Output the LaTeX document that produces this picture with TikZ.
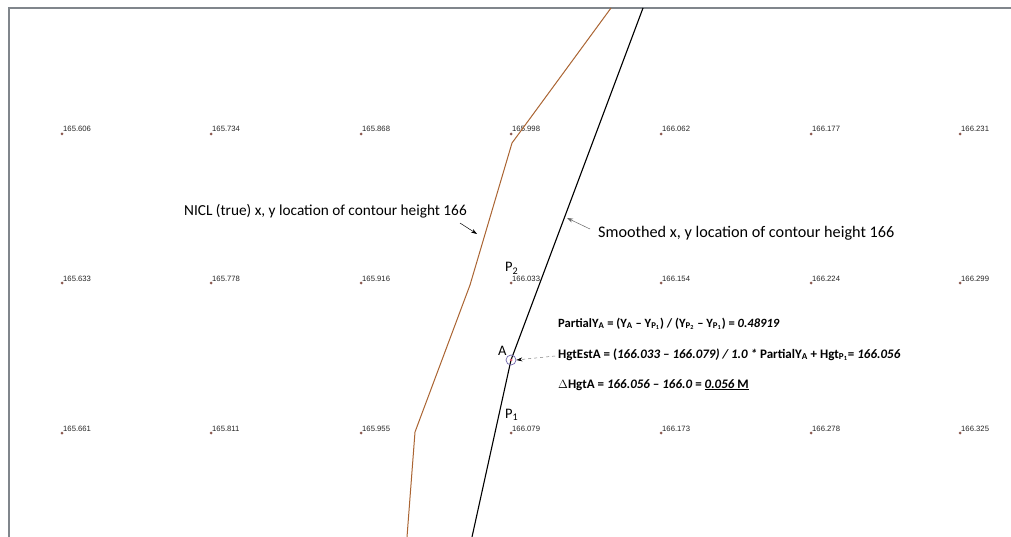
\documentclass[tikz,border=0pt]{standalone}
\usepackage{fontspec}
\setmainfont{Carlito}
\newfontfamily\valfont{Liberation Sans}
\usetikzlibrary{arrows.meta}
\definecolor{framegray}{RGB}{128,134,140}
\definecolor{nicl}{RGB}{170,100,50}
\definecolor{dotc}{RGB}{140,90,80}
\definecolor{circblue}{RGB}{110,100,170}
\definecolor{circred}{RGB}{210,90,110}
\tikzset{
  gdot/.style={circle,fill=dotc,inner sep=0pt,minimum size=3pt},
  gval/.style={anchor=base west,inner sep=0pt,text=black!85,font=\valfont\fontsize{7.7}{9}\selectfont},
  lbl/.style={anchor=base west,inner sep=0pt,font=\fontsize{14}{16}\selectfont},
  eqn/.style={anchor=base west,inner sep=0pt,font=\bfseries\fontsize{13}{15}\selectfont},
  smallarrow/.style={-{Stealth[length=6pt,width=4pt]},line width=0.5pt},
}
\begin{document}
\begin{tikzpicture}[x=1pt,y=-1pt]
\useasboundingbox (0,0) rectangle (1011,537);
\fill[white] (0,0) rectangle (1011,537);
% frame
\draw[framegray,line width=1.8pt] (9,537) -- (9,8) -- (1011,8);
% grid of spot heights
\foreach \r/\y [count=\i] in {1/134,2/283,3/433}{
  \foreach \x [count=\j] in {62,211,361,511,661,811,960}{
    \node[gdot] (d\i\j) at (\x,\y) {};
  }
}
\foreach \v [count=\j] in {165.606,165.734,165.868,165.998,166.062,166.177,166.231}
  \node[gval] (v1\j) at ([xshift=1pt,yshift=2pt]d1\j.center) {\v};
\foreach \v [count=\j] in {165.633,165.778,165.916,166.033,166.154,166.224,166.299}
  \node[gval] (v2\j) at ([xshift=1pt,yshift=2pt]d2\j.center) {\v};
\foreach \v [count=\j] in {165.661,165.811,165.955,166.079,166.173,166.278,166.325}
  \node[gval] (v3\j) at ([xshift=1pt,yshift=2pt]d3\j.center) {\v};
% NICL contour
\coordinate (n1) at (611,8);
\coordinate (n2) at (512,143);
\coordinate (n3) at (470,285);
\coordinate (n4) at (415,432);
\coordinate (n5) at (407,537);
\draw[nicl,line width=1pt] (n1) -- (n2) -- (n3) -- (n4) -- (n5);
% smoothed contour
\coordinate (s1) at (643,8);
\coordinate (sA) at (511,360);
\coordinate (s2) at (472,537);
\draw[black,line width=1.1pt] (s1) -- (sA) -- (s2);
\node[circle,draw=circblue,line width=0.7pt,inner sep=0pt,minimum size=10pt] (A) at (sA) {};
\node[circle,fill=circred,inner sep=0pt,minimum size=3pt] (Adot) at (sA) {};
\node[lbl,font=\fontsize{14.5}{16}\selectfont] (Alab) at (498,355) {A};
\node[lbl,font=\fontsize{14.5}{16}\selectfont] (P2) at (505,272) {P\textsubscript{2}};
\node[lbl,font=\fontsize{14.5}{16}\selectfont] (P1) at (505,418) {P\textsubscript{1}};
% labels
\node[lbl,font=\fontsize{15.3}{17}\selectfont] (nicllab) at (184,216) {NICL (true) x, y location of contour height 166};
\coordinate (na) at (460,223);
\coordinate (nb) at (477,234);
\draw[smallarrow] (na) -- (nb);
\node[lbl,font=\fontsize{16.2}{18}\selectfont] (smlab) at (598,238) {Smoothed x, y location of contour height 166};
\coordinate (sa) at (590,229);
\coordinate (sb) at (567,218);
\draw[smallarrow,draw=gray!80!black] (sa) -- (sb);
% equations
\node[eqn,font=\bfseries\fontsize{12.6}{15}\selectfont] (e1) at (558,327) {PartialY\textsubscript{A} = (Y\textsubscript{A} -- Y\textsubscript{P\textsubscript{1}}) / (Y\textsubscript{P\textsubscript{2}} -- Y\textsubscript{P\textsubscript{1}}) = \textit{0.48919}};
\node[eqn] (e2) at (558,358) {HgtEstA = (\textit{166.033 -- 166.079) / 1.0 *} PartialY\textsubscript{A} + Hgt\textsubscript{P\textsubscript{1}}= \textit{166.056}};
\node[eqn] (e3) at (558,388) {$\Delta$HgtA = \textit{166.056 -- 166.0} = \underline{\textit{0.056} M}};
\coordinate (ea) at (555,356);
\draw[dashed,gray,line width=0.5pt,-{Stealth[length=6pt,width=4pt,black]}] (ea) -- (A.east);
\end{tikzpicture}
\end{document}
